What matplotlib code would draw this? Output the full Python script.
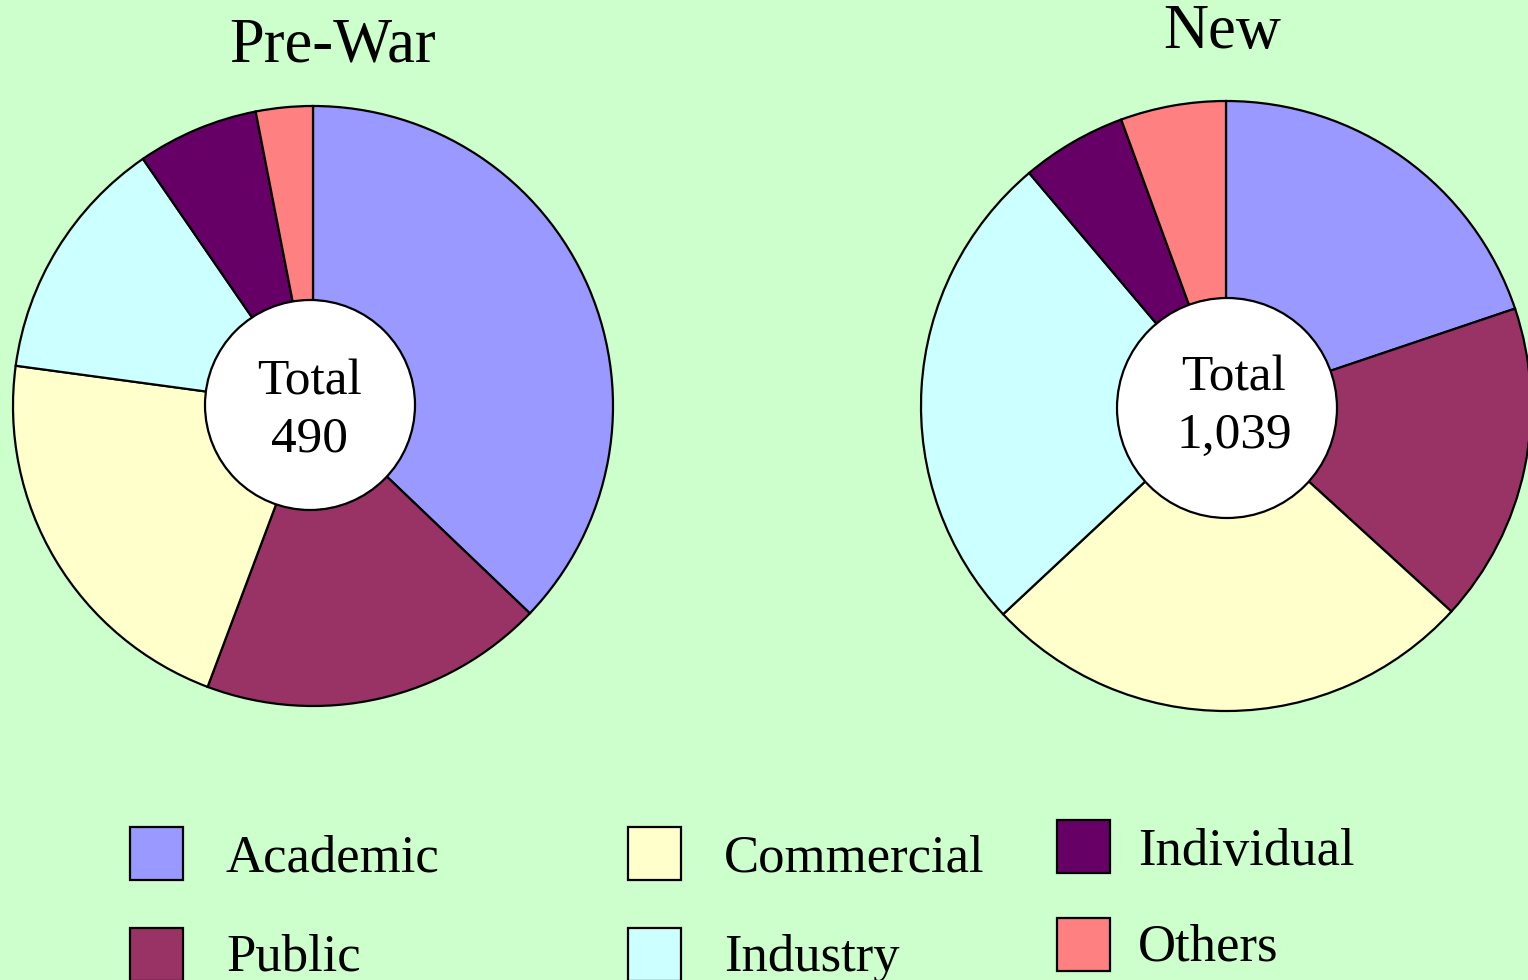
import matplotlib
matplotlib.use("Agg")
import matplotlib.pyplot as plt
import matplotlib.patches as mpatches

# ── Data ──────────────────────────────────────────────────────────────────────
categories = ["Academic", "Public", "Commercial", "Industry", "Individual", "Others"]
colors     = ["#9999FF", "#993366", "#FFFFCC", "#CCFFFF", "#660066", "#FF8080"]
prewar     = [182, 91, 105, 65, 32, 15]      # total 490
new        = [206, 176, 273, 268, 58, 58]    # total 1,039
titles     = ["Pre-War", "New"]
totals     = ["490", "1,039"]

# ── Style ─────────────────────────────────────────────────────────────────────
BG   = "#CCFFCC"
FONT = "Liberation Serif"
W, H = 1528, 980

fig = plt.figure(figsize=(W / 100, H / 100), dpi=100)
fig.patch.set_facecolor(BG)
ax = fig.add_axes([0, 0, 1, 1])

# pixel layout (y measured from the top of the image)
pies = [
    dict(vals=prewar, center=(313, 406), r=300, hole=(310, 405), hr=105,
         label_xy=(309, 411), title_xy=(333, 47)),
    dict(vals=new, center=(1226, 406), r=305, hole=(1227, 408), hr=110,
         label_xy=(1234, 407), title_xy=(1222, 33)),
]

for p, title, total in zip(pies, titles, totals):
    cx, cy = p["center"]
    ax.pie(p["vals"], colors=colors, startangle=90, counterclock=False,
           center=(cx, H - cy), radius=p["r"], frame=True,
           wedgeprops=dict(edgecolor="black", linewidth=1.6))
    hx, hy = p["hole"]
    ax.add_patch(mpatches.Circle((hx, H - hy), p["hr"], facecolor="white",
                                 edgecolor="black", linewidth=1.6, zorder=5))
    lx, ly = p["label_xy"]
    ax.text(lx, H - ly, f"Total\n{total}", ha="center", va="center",
            fontsize=37, family=FONT, linespacing=1.3, zorder=6)
    tx, ty = p["title_xy"]
    ax.text(tx, H - ty, title, ha="center", va="center", fontsize=45,
            family=FONT)

ax.set_xlim(0, W)
ax.set_ylim(0, H)
ax.set_aspect("equal")
ax.axis("off")

# ── Legend (3 columns x 2 rows) ───────────────────────────────────────────────
sq = 53
box_x  = [130, 130, 628, 628, 1057, 1057]
box_y  = [827, 928, 827, 928, 820, 918]
text_x = [226, 226, 724, 724, 1138, 1138]
for lab, col, bx, by, tx in zip(categories, colors, box_x, box_y, text_x):
    ax.add_patch(mpatches.Rectangle((bx, H - by - sq), sq, sq, facecolor=col,
                                    edgecolor="black", linewidth=1.6,
                                    clip_on=False))
    dy = -3 if by > 900 else -5   # keep the bottom row inside the frame
    ax.text(tx, H - by - sq / 2 + dy, lab, ha="left", va="center",
            fontsize=38, family=FONT)

fig.savefig("out.png", dpi=100, facecolor=BG)
